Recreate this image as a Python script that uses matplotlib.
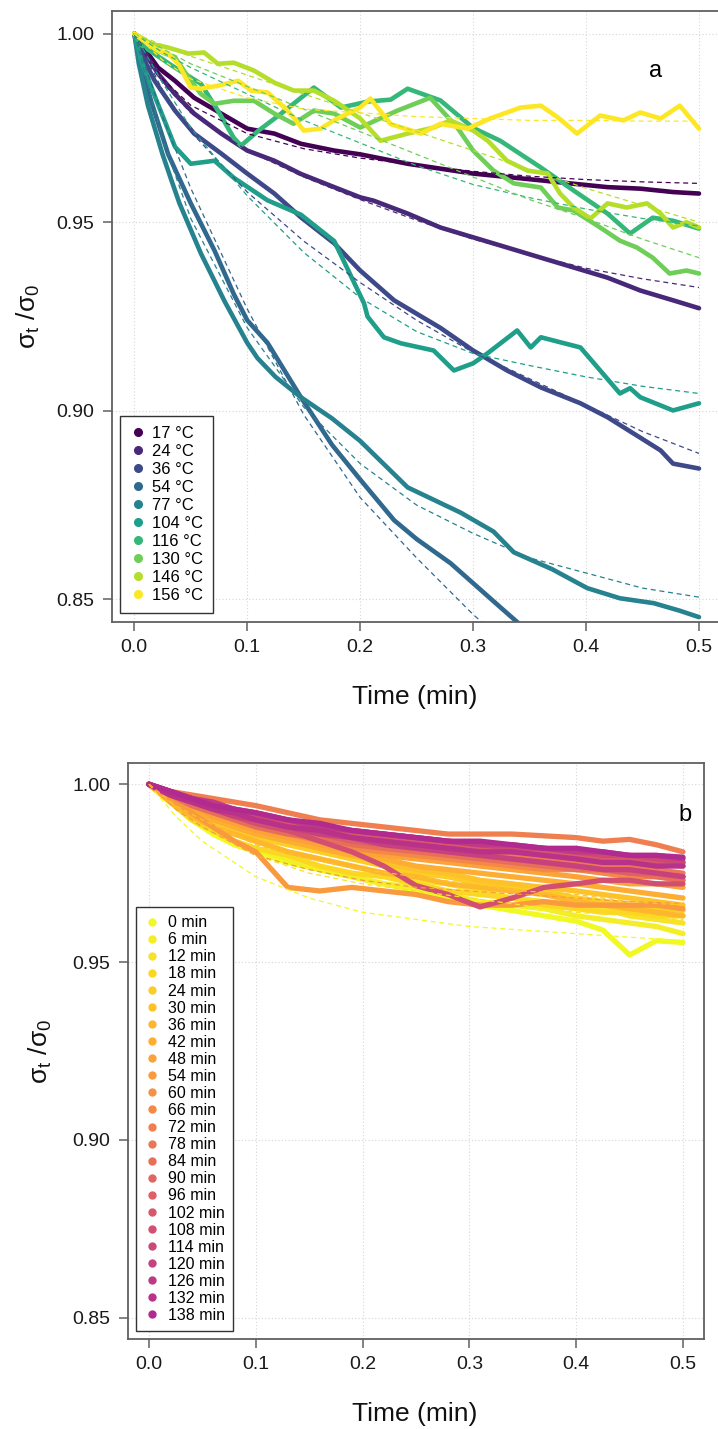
# Stress relaxation curves: sigma_t / sigma_0 vs time
# (a) different temperatures, (b) different ageing times

import numpy as np
import matplotlib
matplotlib.use('Agg')
import matplotlib.pyplot as plt
from matplotlib.lines import Line2D

plt.rcParams['font.family'] = ['Liberation Sans', 'DejaVu Sans']
plt.rcParams['mathtext.fontset'] = 'custom'
plt.rcParams['mathtext.rm'] = 'Liberation Sans'
plt.rcParams['mathtext.it'] = 'Liberation Sans:italic'

# ---------------- panel a: temperatures ----------------
temps = ['17 °C', '24 °C', '36 °C', '54 °C', '77 °C',
         '104 °C', '116 °C', '130 °C', '146 °C', '156 °C']

t17 = [0, 0.006, 0.021, 0.036, 0.053, 0.077, 0.1, 0.124, 0.1475, 0.177, 0.2, 0.242, 0.271, 0.3, 0.33, 0.36, 0.389, 0.419, 0.448, 0.477, 0.5]
v17 = [1, 0.9973, 0.991, 0.9875, 0.983, 0.9788, 0.9748, 0.9735, 0.9708, 0.969, 0.968, 0.9655, 0.9642, 0.9629, 0.962, 0.9611, 0.9602, 0.9593, 0.9589, 0.958, 0.9576]

t24 = [0, 0.006, 0.021, 0.036, 0.053, 0.077, 0.1, 0.124, 0.1475, 0.177, 0.2, 0.212, 0.242, 0.271, 0.3, 0.33, 0.36, 0.389, 0.419, 0.448, 0.477, 0.5]
v24 = [1, 0.9965, 0.9894, 0.984, 0.9788, 0.9735, 0.969, 0.9663, 0.9628, 0.9593, 0.9566, 0.9557, 0.9523, 0.9486, 0.946, 0.9433, 0.9406, 0.938, 0.9353, 0.9319, 0.9293, 0.9272]

t36 = [0, 0.006, 0.018, 0.036, 0.053, 0.077, 0.1, 0.124, 0.1475, 0.177, 0.2, 0.23, 0.271, 0.3, 0.33, 0.36, 0.395, 0.419, 0.442, 0.466, 0.477, 0.5]
v36 = [1, 0.9947, 0.9875, 0.9796, 0.9735, 0.9682, 0.9629, 0.9576, 0.9513, 0.9444, 0.9372, 0.9293, 0.922, 0.916, 0.9107, 0.9062, 0.902, 0.8983, 0.894, 0.8895, 0.886, 0.8847]

t54 = [0, 0.005, 0.015, 0.03, 0.05, 0.071, 0.088, 0.1, 0.118, 0.1475, 0.175, 0.2005, 0.23, 0.25, 0.28, 0.3, 0.32, 0.339, 0.345]
v54 = [1, 0.993, 0.982, 0.968, 0.955, 0.9425, 0.931, 0.924, 0.918, 0.9036, 0.891, 0.8816, 0.871, 0.866, 0.8596, 0.8543, 0.849, 0.844, 0.8425]

t77 = [0, 0.004, 0.012, 0.025, 0.033, 0.04, 0.059, 0.08, 0.1, 0.109, 0.125, 0.1475, 0.175, 0.2, 0.242, 0.289, 0.318, 0.336, 0.37, 0.401, 0.43, 0.46, 0.483, 0.5]
v77 = [1, 0.992, 0.981, 0.968, 0.961, 0.955, 0.9417, 0.929, 0.918, 0.914, 0.909, 0.9036, 0.898, 0.892, 0.8797, 0.873, 0.868, 0.8625, 0.858, 0.853, 0.8503, 0.849, 0.847, 0.8453]

t104 = [0, 0.006, 0.02, 0.036, 0.05, 0.071, 0.088, 0.118, 0.1475, 0.177, 0.2034, 0.2065, 0.221, 0.236, 0.265, 0.283, 0.3, 0.3125, 0.339, 0.351, 0.36, 0.395, 0.4125, 0.43, 0.439, 0.448, 0.477, 0.5]
v104 = [1, 0.993, 0.982, 0.97, 0.9655, 0.9663, 0.9618, 0.9558, 0.952, 0.945, 0.9285, 0.925, 0.9195, 0.9179, 0.916, 0.9107, 0.9126, 0.9152, 0.9213, 0.9168, 0.9195, 0.9168, 0.9107, 0.9046, 0.906, 0.9036, 0.9001, 0.902]

t116 = [0, 0.006, 0.036, 0.059, 0.074, 0.088, 0.0945, 0.11, 0.13, 0.159, 0.183, 0.207, 0.227, 0.242, 0.271, 0.3, 0.324, 0.36, 0.389, 0.419, 0.439, 0.459, 0.477, 0.5]
v116 = [1, 0.997, 0.991, 0.9867, 0.9796, 0.9724, 0.9703, 0.9743, 0.9788, 0.9857, 0.9804, 0.982, 0.9825, 0.9854, 0.9823, 0.975, 0.9716, 0.9645, 0.9584, 0.9523, 0.947, 0.9512, 0.9504, 0.9483]

t130 = [0, 0.021, 0.036, 0.048, 0.059, 0.071, 0.088, 0.106, 0.124, 0.141, 0.159, 0.177, 0.2, 0.233, 0.262, 0.286, 0.3, 0.318, 0.336, 0.36, 0.375, 0.389, 0.4125, 0.43, 0.445, 0.459, 0.474, 0.489, 0.5]
v130 = [1, 0.9955, 0.9937, 0.9884, 0.984, 0.9814, 0.9822, 0.9822, 0.9788, 0.9761, 0.9796, 0.9788, 0.9751, 0.9796, 0.983, 0.9751, 0.969, 0.9637, 0.9603, 0.9592, 0.9539, 0.9531, 0.9486, 0.9451, 0.9433, 0.9406, 0.9364, 0.9372, 0.9364]

t146 = [0, 0.015, 0.03, 0.048, 0.0618, 0.074, 0.088, 0.106, 0.124, 0.1413, 0.159, 0.177, 0.2, 0.218, 0.242, 0.265, 0.28, 0.3, 0.313, 0.33, 0.348, 0.366, 0.377, 0.389, 0.404, 0.419, 0.436, 0.454, 0.466, 0.477, 0.489, 0.5]
v146 = [1, 0.9973, 0.9963, 0.9947, 0.995, 0.992, 0.9923, 0.9902, 0.987, 0.9849, 0.9849, 0.9822, 0.9775, 0.9716, 0.9735, 0.9751, 0.977, 0.9743, 0.9716, 0.9663, 0.9637, 0.9629, 0.9576, 0.9539, 0.951, 0.955, 0.9539, 0.955, 0.9523, 0.9486, 0.95, 0.9486]

t156 = [0, 0.009, 0.021, 0.03, 0.039, 0.05, 0.059, 0.074, 0.092, 0.1034, 0.118, 0.133, 0.1413, 0.15, 0.165, 0.1767, 0.2, 0.209, 0.227, 0.254, 0.271, 0.295, 0.315, 0.342, 0.36, 0.375, 0.392, 0.4125, 0.433, 0.448, 0.466, 0.483, 0.5]
v156 = [1, 0.998, 0.9955, 0.9947, 0.992, 0.9857, 0.9854, 0.9862, 0.9875, 0.9849, 0.9844, 0.9804, 0.9777, 0.9743, 0.9748, 0.977, 0.9804, 0.9828, 0.976, 0.9735, 0.9761, 0.9748, 0.9775, 0.9804, 0.9809, 0.9778, 0.9735, 0.9783, 0.977, 0.9791, 0.9775, 0.9809, 0.9748]

# fitted curves (dashed), read at these times
tfit_a = [0, 0.025, 0.05, 0.1, 0.15, 0.2, 0.25, 0.3, 0.35, 0.4, 0.45, 0.5]
f17 = [1, 0.988, 0.981, 0.9735, 0.9695, 0.967, 0.9652, 0.9635, 0.9622, 0.9613, 0.9607, 0.9603]
f24 = [1, 0.987, 0.979, 0.969, 0.962, 0.956, 0.9505, 0.9455, 0.9415, 0.9378, 0.935, 0.9327]
f36 = [1, 0.985, 0.974, 0.958, 0.945, 0.934, 0.924, 0.9155, 0.9085, 0.9015, 0.8945, 0.8887]
f54 = [1, 0.978, 0.959, 0.927, 0.899, 0.877, 0.861, 0.846, 0.833, 0.822, 0.812, 0.803]
f77 = [1, 0.972, 0.951, 0.922, 0.901, 0.886, 0.875, 0.8675, 0.861, 0.857, 0.853, 0.8506]
f104 = [1, 0.987, 0.975, 0.957, 0.942, 0.930, 0.921, 0.9152, 0.912, 0.909, 0.9065, 0.9046]
f116 = [1, 0.995, 0.991, 0.984, 0.977, 0.971, 0.965, 0.960, 0.9565, 0.9535, 0.951, 0.949]
f130 = [1, 0.996, 0.992, 0.986, 0.980, 0.974, 0.968, 0.962, 0.956, 0.951, 0.9455, 0.9406]
f146 = [1, 0.997, 0.994, 0.989, 0.984, 0.979, 0.974, 0.969, 0.964, 0.959, 0.9545, 0.950]
f156 = [1, 0.993, 0.988, 0.983, 0.980, 0.979, 0.978, 0.9775, 0.977, 0.977, 0.9768, 0.9768]

series_a = [(t17, v17, f17), (t24, v24, f24), (t36, v36, f36), (t54, v54, f54),
            (t77, v77, f77), (t104, v104, f104), (t116, v116, f116),
            (t130, v130, f130), (t146, v146, f146), (t156, v156, f156)]

# ---------------- panel b: ageing time ----------------
ages = ['%d min' % m for m in range(0, 139, 6)]
tb = [0, 0.02, 0.04, 0.06, 0.08, 0.1, 0.13, 0.16, 0.19, 0.22, 0.25, 0.28, 0.31, 0.34, 0.37, 0.4, 0.425, 0.45, 0.475, 0.5]

b0 = [1, .995, .990, .986, .983, .981, .978, .976, .974, .972, .970, .968, .966, .9645, .963, .9615, .959, .952, .956, .9555]
b6 = [1, .995, .991, .987, .984, .982, .979, .976, .974, .972, .971, .969, .967, .966, .965, .963, .962, .961, .960, .958]
b12 = [1, .996, .992, .989, .986, .984, .981, .979, .977, .975, .973, .972, .970, .968, .967, .966, .965, .963, .962, .961]
b18 = [1, .995, .990, .987, .984, .982, .980, .977, .975, .974, .972, .970, .969, .968, .966, .965, .964, .964, .963, .963]
b24 = [1, .996, .992, .989, .987, .985, .983, .981, .979, .977, .975, .974, .972, .971, .970, .968, .967, .966, .965, .9645]
b30 = [1, .996, .993, .990, .988, .986, .984, .982, .980, .978, .976, .975, .973, .972, .971, .970, .969, .968, .967, .966]
b36 = [1, .995, .991, .988, .986, .984, .981, .979, .977, .975, .974, .972, .971, .970, .969, .967, .966, .965, .964, .963]
b42 = [1, .996, .993, .990, .988, .986, .984, .982, .980, .979, .977, .976, .975, .974, .973, .972, .971, .970, .969, .968]
b48 = [1, .997, .994, .991, .989, .987, .985, .983, .981, .980, .979, .978, .977, .976, .975, .974, .973, .972, .972, .971]
b54 = [1, .996, .992, .988, .984, .981, .971, .970, .971, .970, .969, .967, .966, .966, .967, .966, .966, .966, .966, .965]
b60 = [1, .997, .995, .993, .991, .989, .987, .985, .984, .983, .982, .981, .980, .979, .978, .977, .976, .975, .9745, .974]
b66 = [1, .997, .994, .992, .990, .988, .986, .984, .982, .981, .980, .979, .978, .977, .976, .976, .975, .974, .974, .973]
b72 = [1, .998, .997, .996, .995, .994, .992, .990, .989, .988, .987, .986, .986, .986, .9855, .985, .984, .9845, .983, .981]
b78 = [1, .997, .995, .993, .991, .990, .988, .986, .985, .984, .983, .982, .981, .980, .979, .978, .977, .977, .976, .975]
b84 = [1, .997, .994, .992, .990, .988, .986, .985, .983, .982, .981, .980, .979, .978, .977, .976, .976, .975, .974, .973]
b90 = [1, .998, .996, .994, .992, .991, .989, .987, .986, .985, .984, .983, .982, .981, .981, .980, .979, .979, .978, .977]
b96 = [1, .997, .995, .993, .991, .989, .987, .986, .984, .983, .982, .981, .980, .979, .978, .977, .976, .975, .975, .974]
b102 = [1, .998, .996, .994, .992, .991, .989, .987, .986, .985, .984, .983, .982, .982, .981, .980, .979, .979, .978, .978]
b108 = [1, .997, .995, .993, .991, .989, .987, .984, .981, .977, .9715, .969, .9655, .968, .971, .972, .973, .973, .972, .972]
b114 = [1, .998, .996, .994, .993, .991, .990, .988, .987, .986, .985, .984, .983, .982, .982, .981, .980, .980, .979, .978]
b120 = [1, .997, .995, .993, .991, .990, .988, .986, .985, .983, .982, .981, .980, .979, .978, .977, .976, .976, .975, .974]
b126 = [1, .998, .996, .995, .993, .992, .990, .988, .987, .986, .985, .984, .983, .983, .982, .981, .981, .980, .980, .979]
b132 = [1, .997, .995, .993, .992, .990, .988, .987, .985, .984, .983, .982, .981, .981, .980, .979, .978, .978, .977, .977]
b138 = [1, .998, .996, .994, .993, .992, .990, .989, .987, .986, .985, .984, .984, .983, .982, .982, .981, .980, .980, .9795]

series_b = [b0, b6, b12, b18, b24, b30, b36, b42, b48, b54, b60, b66,
            b72, b78, b84, b90, b96, b102, b108, b114, b120, b126, b132, b138]

# visible fitted curves in panel b (index of series, values at tfit_b)
tfit_b = [0, 0.025, 0.05, 0.1, 0.15, 0.2, 0.25, 0.3, 0.35, 0.4, 0.45, 0.5]
fb0 = [1, .991, .984, .974, .968, .964, .962, .960, .959, .958, .957, .956]
fb12 = [1, .993, .988, .980, .975, .972, .970, .968, .966, .964, .963, .962]
fb30 = [1, .994, .990, .983, .979, .976, .974, .972, .970, .969, .967, .966]
fb54 = [1, .993, .988, .980, .976, .973, .971, .970, .969, .968, .967, .9665]
fits_b = [(0, fb0), (2, fb12), (5, fb30), (9, fb54)]

colors_a = plt.cm.viridis(np.linspace(0, 1, len(temps)))
colors_b = plt.cm.plasma(np.linspace(1.0, 0.4, len(ages)))

fig = plt.figure(figsize=(7.18, 14.29), dpi=100)
ax1 = fig.add_axes([0.1556, 0.5647, 0.8494, 0.4276])
ax2 = fig.add_axes([0.1777, 0.0630, 0.8033, 0.4031])


def style(ax):
    ax.set_xlim(-0.02, 0.52)
    ax.set_ylim(0.844, 1.006)
    ax.set_xticks([0, 0.1, 0.2, 0.3, 0.4, 0.5])
    ax.set_xticklabels(['0.0', '0.1', '0.2', '0.3', '0.4', '0.5'])
    ax.set_yticks([0.85, 0.90, 0.95, 1.00])
    ax.set_yticklabels(['0.85', '0.90', '0.95', '1.00'])
    ax.grid(True, color='#d6d6d6', ls=(0, (1, 2)), lw=0.8)
    ax.set_axisbelow(True)
    for s in ax.spines.values():
        s.set_color('#606060')
        s.set_linewidth(1.3)
    ax.tick_params(length=6.5, width=1.1, color='#606060', labelsize=14, labelcolor='#1a1a1a')
    ax.tick_params(axis='y', pad=6)
    ax.tick_params(axis='x', pad=6)
    ax.set_xlabel('Time (min)', fontsize=19, color='#111111')
    ax.set_ylabel(r'$\mathregular{\sigma_t\ /\sigma_0}$', fontsize=19, color='#111111')
    ax.xaxis.label.set_va('center')


style(ax1)
style(ax2)

for (t, v, f), c in zip(series_a, colors_a):
    ax1.plot(t, v, color=c, lw=3.3, solid_capstyle='round', solid_joinstyle='round')
for (t, v, f), c in zip(series_a, colors_a):
    ax1.plot(tfit_a, f, color=c, lw=0.9, ls=(0, (4, 3)))

for v, c in zip(series_b, colors_b):
    ax2.plot(tb, v, color=c, lw=3.8, solid_capstyle='round', solid_joinstyle='round')
for i, f in fits_b:
    ax2.plot(tfit_b, f, color=colors_b[i], lw=0.9, ls=(0, (4, 3)))

h1 = [Line2D([], [], marker='o', ls='none', color=c, markersize=5.5) for c in colors_a]
leg1 = ax1.legend(h1, temps, loc='lower left', bbox_to_anchor=(0.0136, 0.0147),
                  borderaxespad=0, fontsize=12, fancybox=False, edgecolor='#333333',
                  framealpha=1, handletextpad=0.3, labelspacing=0.18, handlelength=1.0,
                  borderpad=0.6)
leg1.get_frame().set_linewidth(1.0)

h2 = [Line2D([], [], marker='o', ls='none', color=c, markersize=5) for c in colors_b]
leg2 = ax2.legend(h2, ages, loc='lower left', bbox_to_anchor=(0.0146, 0.0139),
                  borderaxespad=0, fontsize=11.5, fancybox=False, edgecolor='#333333',
                  framealpha=1, handletextpad=0.5, labelspacing=0.13, handlelength=1.0,
                  borderpad=0.5)
leg2.get_frame().set_linewidth(1.0)

ax1.text(0.891, 0.902, 'a', transform=ax1.transAxes, fontsize=17, ha='center', va='center')
ax2.text(0.966, 0.910, 'b', transform=ax2.transAxes, fontsize=17, ha='center', va='center')

ax1.xaxis.set_label_coords(0.497, -0.1227)
ax2.xaxis.set_label_coords(0.498, -0.130)
ax1.yaxis.set_label_coords(-0.115, 0.5)
ax2.yaxis.set_label_coords(-0.128, 0.5)

fig.savefig('out.png', dpi=100)
